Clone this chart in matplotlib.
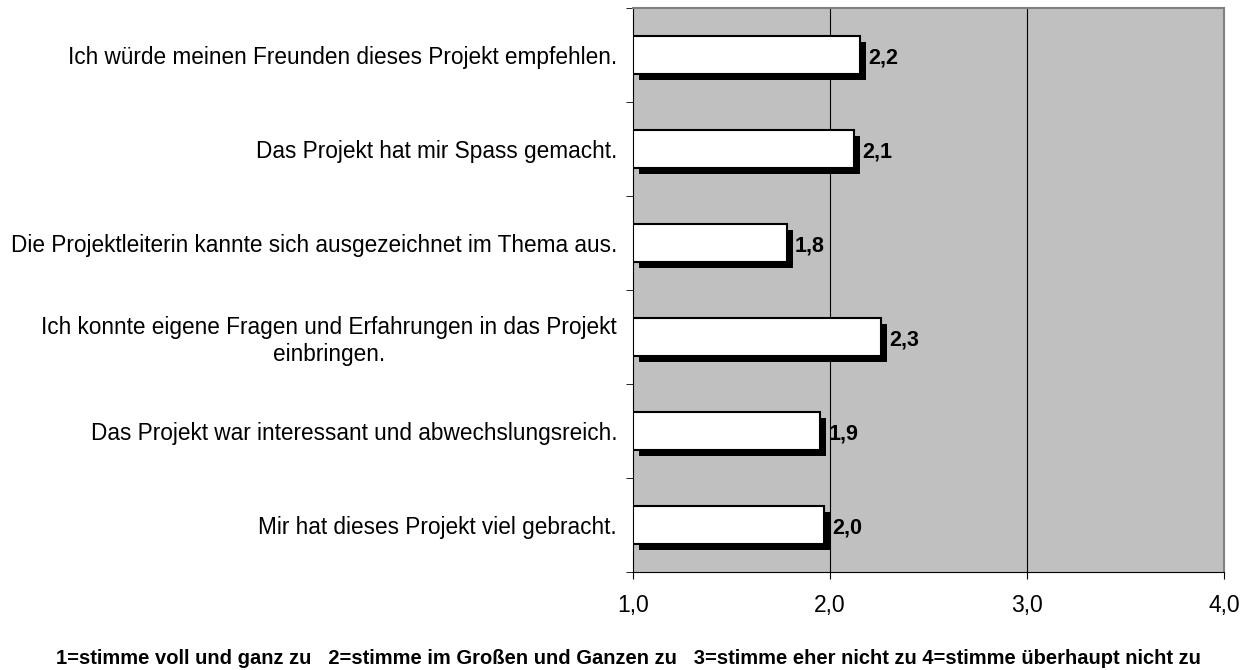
import matplotlib
matplotlib.use('Agg')

import matplotlib.pyplot as plt
from matplotlib.transforms import offset_copy

# Data (top to bottom)
statements = [
    "Ich würde meinen Freunden dieses Projekt empfehlen.",
    "Das Projekt hat mir Spass gemacht.",
    "Die Projektleiterin kannte sich ausgezeichnet im Thema aus.",
    "Ich konnte eigene Fragen und Erfahrungen in das Projekt\neinbringen.",
    "Das Projekt war interessant und abwechslungsreich.",
    "Mir hat dieses Projekt viel gebracht.",
]
means = [2.15, 2.12, 1.78, 2.26, 1.95, 1.97]
mean_labels = ["2,2", "2,1", "1,8", "2,3", "1,9", "2,0"]
x_ticks = [1.0, 2.0, 3.0, 4.0]
x_ticklabels = ["1,0", "2,0", "3,0", "4,0"]
scale_note = ("1=stimme voll und ganz zu   2=stimme im Großen und Ganzen zu   "
              "3=stimme eher nicht zu 4=stimme überhaupt nicht zu")

plt.rcParams['font.family'] = ['Liberation Sans', 'DejaVu Sans']

fig = plt.figure(figsize=(12.55, 6.7), dpi=100)
ax = fig.add_axes([633 / 1255, 98 / 670, (1224 - 633) / 1255, (572 - 8) / 670])
ax.set_facecolor('#c0c0c0')

pos = list(range(len(statements)))
widths = [m - 1.0 for m in means]
h = 0.40

# black drop shadow behind each bar
shadow_tr = offset_copy(ax.transData, fig=fig, x=6, y=-6, units='dots')
ax.barh(pos, widths, left=1.0, height=h, color='black', transform=shadow_tr, zorder=2)
ax.barh(pos, widths, left=1.0, height=h, color='white', edgecolor='black',
        linewidth=1.5, zorder=3)

for p, m, lab in zip(pos, means, mean_labels):
    ax.annotate(lab, (m, p), xytext=(6, -2), textcoords='offset points',
                ha='left', va='center', fontsize=15.5, fontweight='bold', zorder=4)

ax.set_xlim(1.0, 4.0)
ax.set_ylim(len(statements) - 0.5, -0.5)
ax.set_xticks(x_ticks)
ax.set_xticklabels(x_ticklabels, fontsize=16.5)
ax.tick_params(axis='x', direction='out', length=5, pad=11)
for x in x_ticks[1:3]:
    ax.axvline(x, color='black', linewidth=0.8, zorder=1)

ax.set_yticks(pos)
ax.set_yticklabels(statements, fontsize=16.3, multialignment='center')
ax.tick_params(axis='y', which='major', length=0, pad=11.5)
ax.set_yticks([p - 0.5 for p in range(len(statements) + 1)], minor=True)
ax.tick_params(axis='y', which='minor', direction='out', length=5)

ax.spines['top'].set_color('#808080')
ax.spines['right'].set_color('#808080')
ax.spines['top'].set_linewidth(1.5)
ax.spines['right'].set_linewidth(1.5)
ax.spines['left'].set_linewidth(0.8)
ax.spines['bottom'].set_linewidth(0.8)

fig.text(628 / 1255, 1 - 658 / 670, scale_note, ha='center', va='center',
         fontsize=14.5, fontweight='bold')

fig.savefig('out.png', dpi=100)
